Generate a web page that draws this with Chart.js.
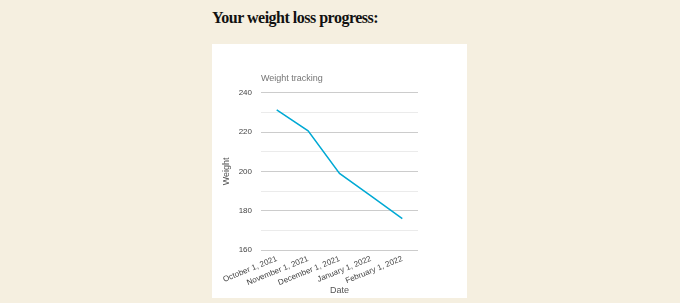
<!DOCTYPE html>
<html>
<head>
<meta charset="utf-8">
<script src="https://cdn.jsdelivr.net/npm/chart.js@4/dist/chart.umd.min.js"></script>
<style>
  html, body {
    margin: 0;
    padding: 0;
    background: #f5efe0;
  }
  h2 {
    position: absolute;
    left: 212px;
    top: 9px;
    margin: 0;
    font-family: "Liberation Serif", serif;
    font-weight: bold;
    font-size: 16px;
    letter-spacing: -0.5px;
    color: #111;
  }
  .card {
    position: absolute;
    left: 212px;
    top: 44px;
    width: 255px;
    height: 254px;
    background: #fff;
  }
</style>
</head>
<body>
<h2>Your weight loss progress:</h2>
<div class="card">
  <canvas id="weightChart" width="255" height="254"></canvas>
</div>
<script>
  const dates = [
    "October 1, 2021",
    "November 1, 2021",
    "December 1, 2021",
    "January 1, 2022",
    "February 1, 2022",
  ];
  const weights = [231.3, 220.6, 199, 187.6, 176];
  const yMin = 160;
  const yMax = 240;

  const ctx = document.getElementById("weightChart").getContext("2d");
  new Chart(ctx, {
    type: "line",
    data: {
      labels: dates,
      datasets: [
        {
          label: "Weight",
          data: weights,
          borderColor: "#00a9d4",
          borderWidth: 1.5,
          pointRadius: 0,
          tension: 0,
        },
      ],
    },
    options: {
      responsive: false,
      animation: false,
      layout: {
        padding: { left: 0, right: 49, top: 29, bottom: 0 },
      },
      plugins: {
        legend: { display: false },
        tooltip: { enabled: false },
        title: {
          display: true,
          text: "Weight tracking",
          align: "start",
          fullSize: false,
          color: "#757575",
          font: { family: "Arial, Liberation Sans", size: 9, weight: "normal" },
          padding: { top: 0, bottom: 9 },
        },
      },
      scales: {
        x: {
          offset: true,
          grid: { display: false },
          border: { display: false },
          ticks: {
            color: "#444",
            font: { family: "Arial, Liberation Sans", size: 8 },
            minRotation: 22,
            maxRotation: 22,
            autoSkip: false,
            padding: -4,
          },
          title: {
            display: true,
            text: "Date",
            color: "#555",
            font: { family: "Arial, Liberation Sans", size: 9 },
            padding: { top: 0, bottom: 2 },
          },
          afterFit: function (scale) {
            scale.height = 48;
          },
        },
        y: {
          min: yMin,
          max: yMax,
          grid: {
            drawTicks: false,
            color: function (c) {
              return c.tick && c.tick.value % 20 === 0 ? "#cccccc" : "#ebebeb";
            },
          },
          border: { display: false },
          ticks: {
            stepSize: 10,
            padding: 9,
            color: "#444",
            font: { family: "Arial, Liberation Sans", size: 8 },
            callback: function (v) {
              return v % 20 === 0 ? v : "";
            },
          },
          title: {
            display: true,
            text: "Weight",
            color: "#555",
            font: { family: "Arial, Liberation Sans", size: 9 },
            padding: { top: 9, bottom: 0 },
          },
          afterFit: function (scale) {
            scale.width = 49;
          },
        },
      },
    },
  });
</script>
</body>
</html>
